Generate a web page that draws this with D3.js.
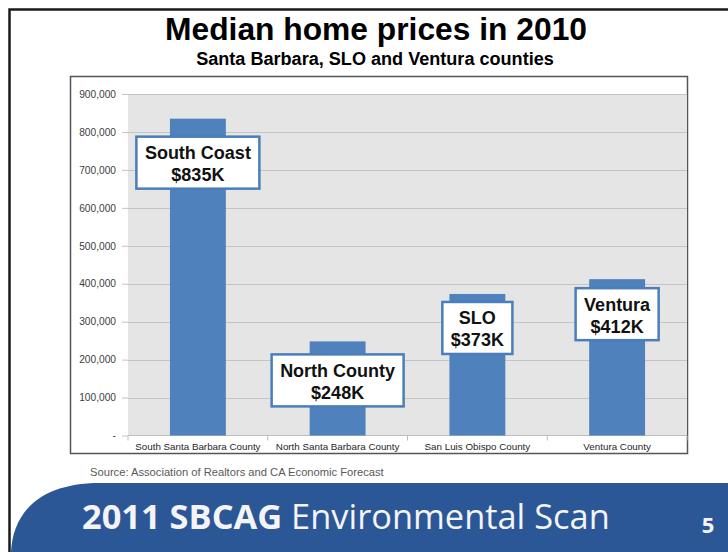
<!DOCTYPE html>
<html>
<head>
<meta charset="utf-8">
<script src="https://cdn.jsdelivr.net/npm/d3@7"></script>
<style>
  html, body { margin: 0; padding: 0; background: #ffffff; }
  svg { display: block; }
</style>
</head>
<body>
<svg id="slide" width="728" height="552"></svg>
<script>
// Median home prices, 2010
const categories = ["South Santa Barbara County", "North Santa Barbara County", "San Luis Obispo County", "Ventura County"];
const medianPrices = [835000, 248000, 373000, 412000];
const calloutNames = ["South Coast", "North County", "SLO", "Ventura"];
const yTickValues = [0, 100000, 200000, 300000, 400000, 500000, 600000, 700000, 800000, 900000];
const yTickLabels = ["-", "100,000", "200,000", "300,000", "400,000", "500,000", "600,000", "700,000", "800,000", "900,000"];

const titleText = "Median home prices in 2010";
const subtitleText = "Santa Barbara, SLO and Ventura counties";
const sourceText = "Source: Association of Realtors and CA Economic Forecast";
const footerBold = "2011 SBCAG";
const footerRegular = " Environmental Scan";
const pageNumber = "5";

const svg = d3.select("#slide");
const sans = "'Liberation Sans', Arial, Helvetica, sans-serif";

// Fit a text element to a given width by adjusting its font size
function fitWidth(sel, target) {
  const fs = parseFloat(sel.attr("font-size"));
  const w = sel.node().getComputedTextLength();
  sel.attr("font-size", fs * target / w);
}

// Slide frame
svg.append("path")
  .attr("d", "M9.5,552 L9.5,9.5 L728,9.5")
  .attr("fill", "none").attr("stroke", "#1a1a1a").attr("stroke-width", 2.5);

// Titles
const title = svg.append("text").text(titleText)
  .attr("x", 376).attr("y", 40).attr("text-anchor", "middle")
  .attr("font-family", sans).attr("font-weight", "bold").attr("font-size", 30)
  .attr("fill", "#000");
fitWidth(title, 422);
const subtitle = svg.append("text").text(subtitleText)
  .attr("x", 375).attr("y", 65).attr("text-anchor", "middle")
  .attr("font-family", sans).attr("font-weight", "bold").attr("font-size", 17)
  .attr("fill", "#000");
fitWidth(subtitle, 358);

// Chart frame
svg.append("rect")
  .attr("x", 70.5).attr("y", 76.5).attr("width", 617).attr("height", 377)
  .attr("fill", "#ffffff").attr("stroke", "#555555").attr("stroke-width", 1.5);

// Scales
const plot = { left: 128, right: 687, top: 94, bottom: 435.5 };
const x = d3.scaleBand().domain(categories)
  .range([plot.left, plot.right]).paddingInner(0.6).paddingOuter(0.3);
const y = d3.scaleLinear().domain([0, 900000]).range([plot.bottom, plot.top]);

// Plot background
svg.append("rect")
  .attr("x", plot.left).attr("y", plot.top)
  .attr("width", plot.right - plot.left).attr("height", plot.bottom - plot.top)
  .attr("fill", "#e5e5e5");

// Gridlines
svg.append("g").selectAll("line").data(yTickValues.filter(v => v > 0)).join("line")
  .attr("x1", plot.left).attr("x2", plot.right)
  .attr("y1", d => Math.round(y(d)) + 0.5).attr("y2", d => Math.round(y(d)) + 0.5)
  .attr("stroke", "#c4c4c4").attr("stroke-width", 1);

// Y axis
const yAxis = d3.axisLeft(y)
  .tickValues(yTickValues)
  .tickFormat((d, i) => yTickLabels[i])
  .tickSize(6).tickPadding(6);
const gy = svg.append("g").attr("transform", `translate(${plot.left},0)`).call(yAxis);
gy.select(".domain").remove();
gy.selectAll(".tick line").attr("stroke", "#c4c4c4");
gy.selectAll(".tick text")
  .attr("font-family", sans).attr("font-size", 10.2).attr("fill", "#404040");

// Baseline and category separators
svg.append("line")
  .attr("x1", plot.left).attr("x2", plot.right)
  .attr("y1", plot.bottom).attr("y2", plot.bottom)
  .attr("stroke", "#bdbdbd").attr("stroke-width", 1);
const step = x.step();
svg.append("g").selectAll("line").data(d3.range(categories.length + 1)).join("line")
  .attr("x1", i => plot.left + i * step).attr("x2", i => plot.left + i * step)
  .attr("y1", plot.bottom).attr("y2", plot.bottom + 5)
  .attr("stroke", "#bdbdbd").attr("stroke-width", 1);

// Bars
svg.append("g").selectAll("rect").data(categories).join("rect")
  .attr("x", d => x(d)).attr("width", x.bandwidth())
  .attr("y", (d, i) => y(medianPrices[i]))
  .attr("height", (d, i) => plot.bottom - y(medianPrices[i]))
  .attr("fill", "#4f81bd");

// Category labels
svg.append("g").selectAll("text").data(categories).join("text")
  .text(d => d)
  .attr("x", d => x(d) + x.bandwidth() / 2).attr("y", 449.5)
  .attr("text-anchor", "middle")
  .attr("font-family", sans).attr("font-size", 9.8).attr("fill", "#262626");

// Callout boxes below each bar top
const calloutDrop = [18, 13, 8, 9];
const callouts = svg.append("g");
categories.forEach((c, i) => {
  const cx = x(c) + x.bandwidth() / 2;
  const top = y(medianPrices[i]) + calloutDrop[i];
  const g = callouts.append("g");
  const box = g.append("rect");
  const t1 = g.append("text").text(calloutNames[i])
    .attr("x", cx).attr("y", top + 22.5).attr("text-anchor", "middle")
    .attr("font-family", sans).attr("font-weight", "bold").attr("font-size", 18)
    .attr("fill", "#111");
  const t2 = g.append("text").text("$" + (medianPrices[i] / 1000) + "K")
    .attr("x", cx).attr("y", top + 44.5).attr("text-anchor", "middle")
    .attr("font-family", sans).attr("font-weight", "bold").attr("font-size", 18)
    .attr("fill", "#111");
  const w = Math.max(t1.node().getComputedTextLength(), t2.node().getComputedTextLength()) + 17;
  box.attr("x", cx - w / 2).attr("y", top).attr("width", w).attr("height", 52)
    .attr("fill", "#ffffff").attr("stroke", "#4a7ebb").attr("stroke-width", 2.5);
});

// Source note
const source = svg.append("text").text(sourceText)
  .attr("x", 90).attr("y", 476)
  .attr("font-family", sans).attr("font-size", 11).attr("fill", "#595959");
fitWidth(source, 294);

// Footer band
svg.append("path")
  .attr("d", "M11,552 C13,512 40,483 100,483 L728,483 L728,552 Z")
  .attr("fill", "#2c5797");

const footer = svg.append("text")
  .attr("x", 82).attr("y", 529)
  .attr("font-family", "'Open Sans', Lato, sans-serif").attr("font-size", 30)
  .attr("fill", "#f4f4f4");
footer.append("tspan").text(footerBold).attr("font-weight", "bold");
footer.append("tspan").text(footerRegular).attr("font-weight", "normal");
fitWidth(footer, 528);

svg.append("text").text(pageNumber)
  .attr("x", 708).attr("y", 533).attr("text-anchor", "middle")
  .attr("font-family", "'Open Sans', Lato, sans-serif").attr("font-weight", "bold")
  .attr("font-size", 22).attr("fill", "#f4f4f4");
</script>
</body>
</html>
